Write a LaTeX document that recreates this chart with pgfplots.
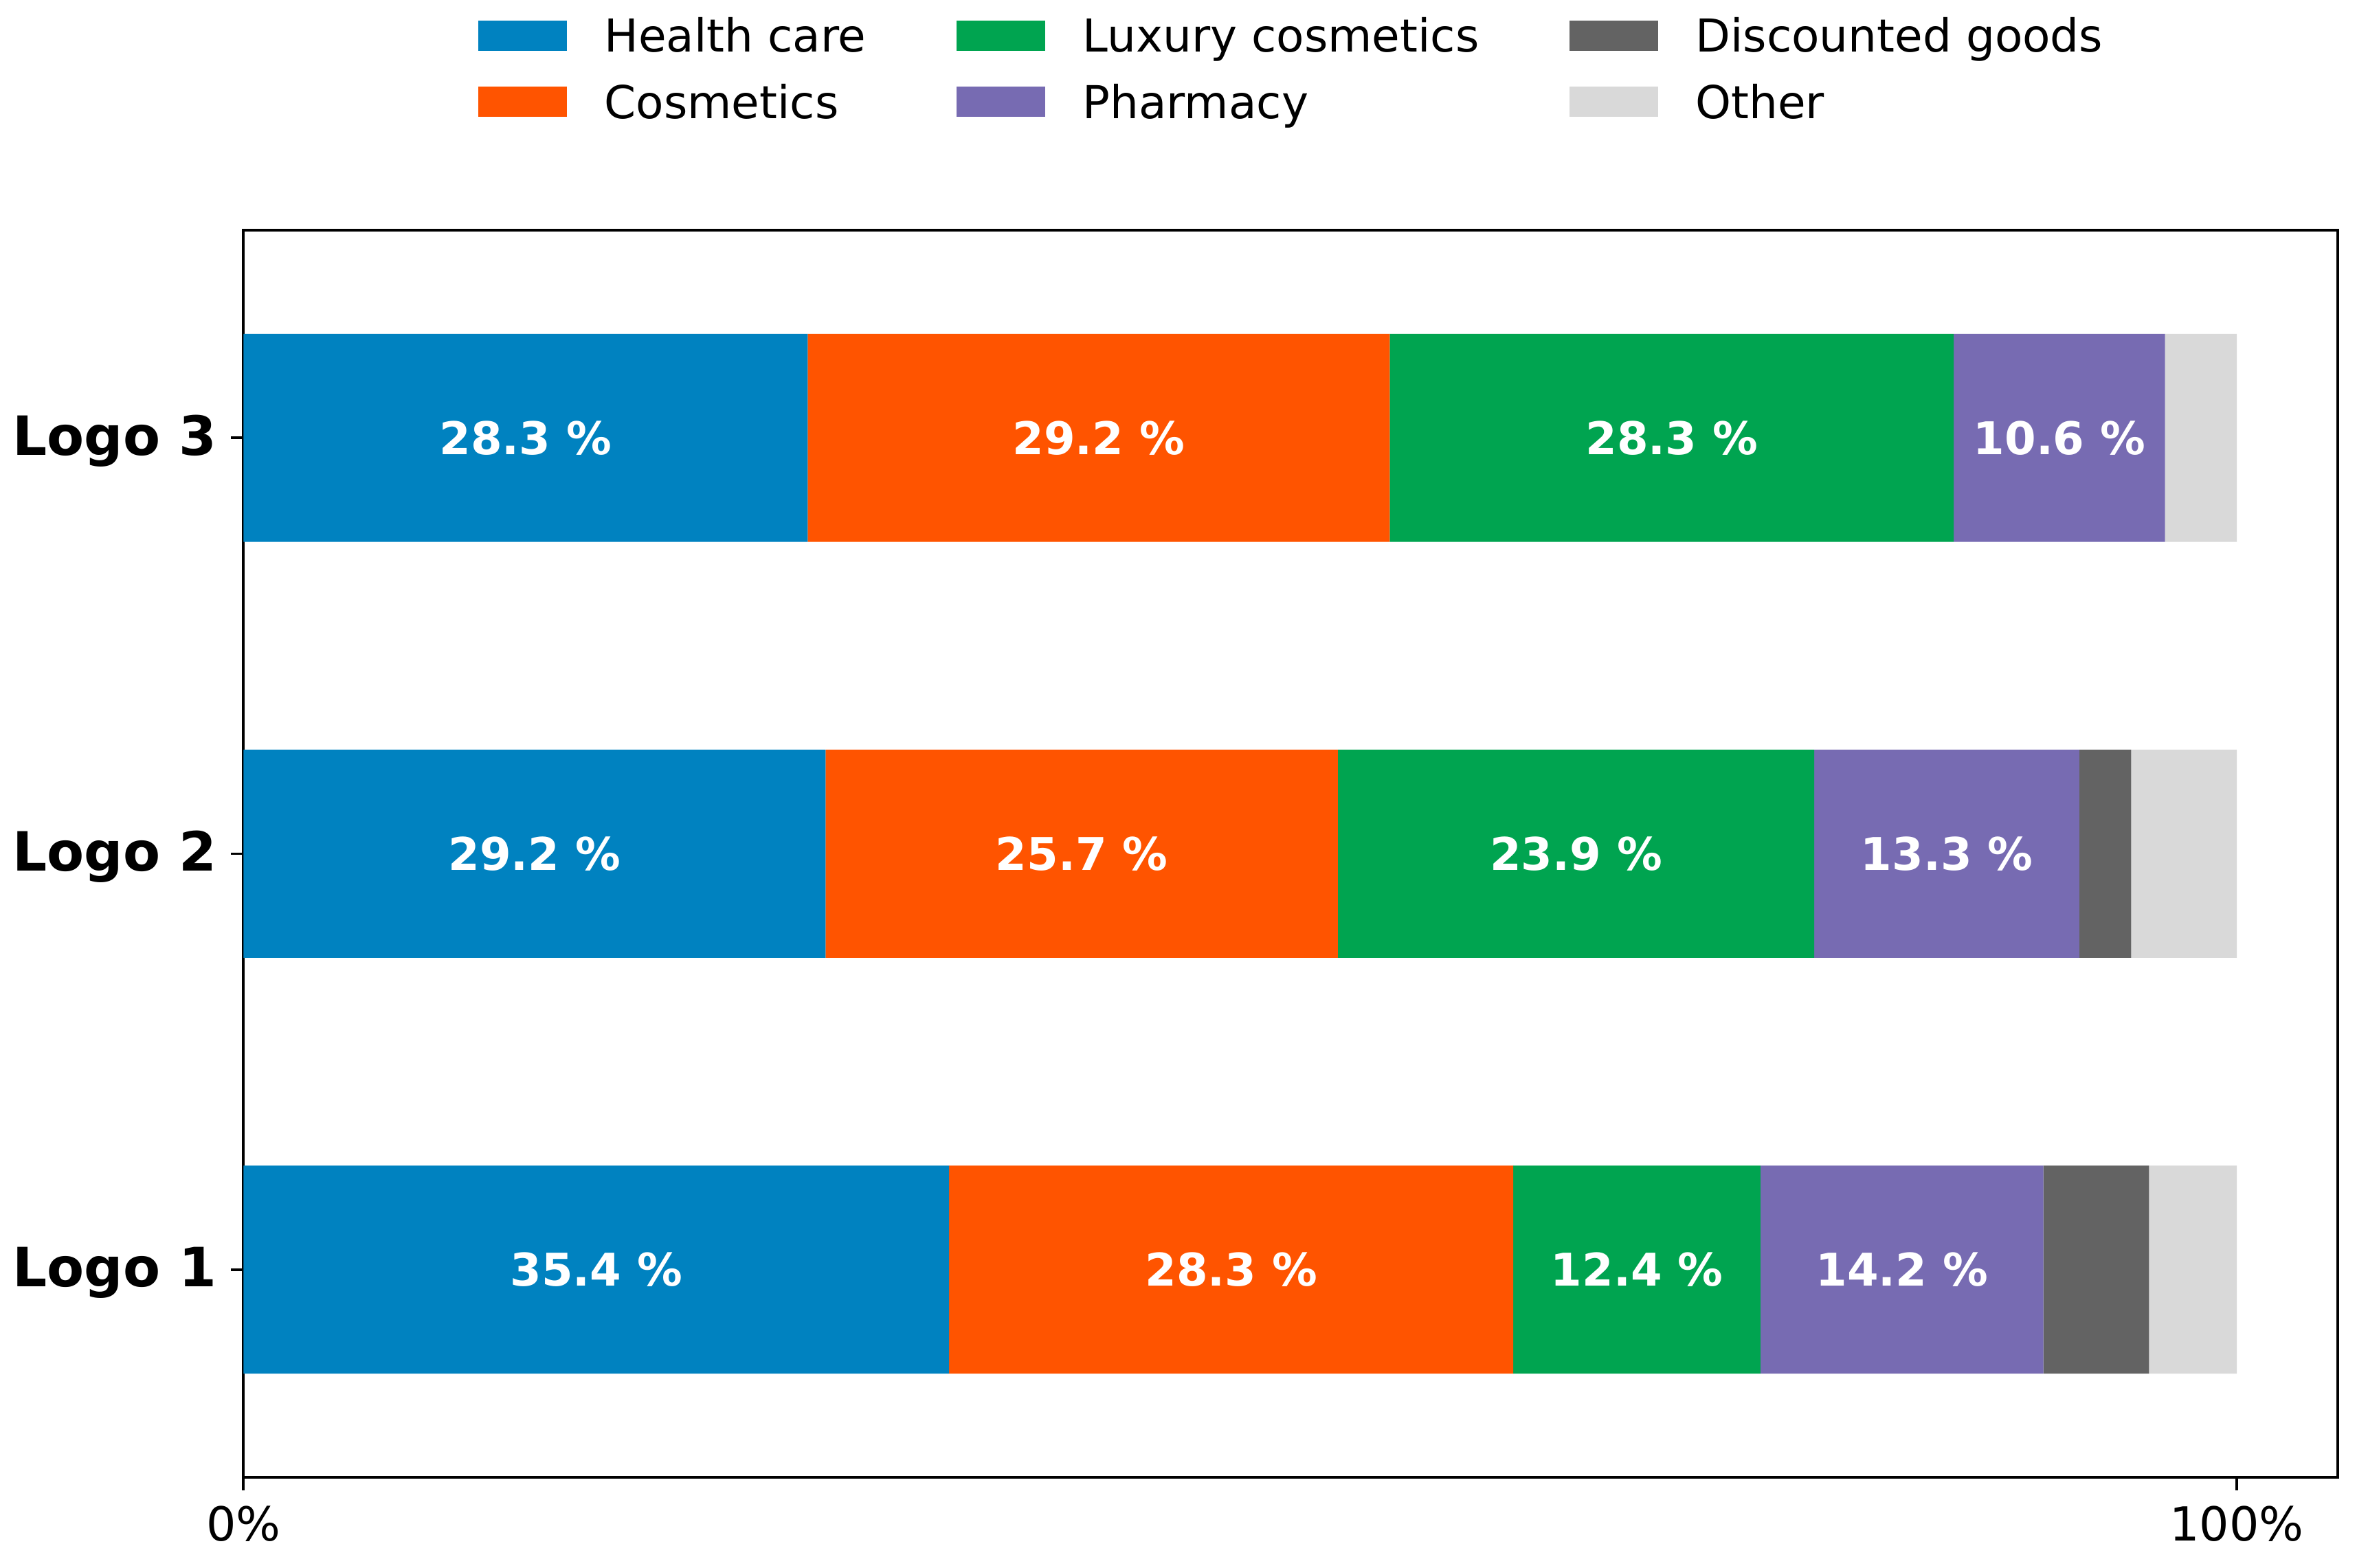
\documentclass[border=0pt]{standalone}
\usepackage{fontspec}
\setmainfont{DejaVu Sans}
\usepackage{pgfplots}
\pgfplotsset{compat=1.18}
\usepackage{pgfplotstable}

\definecolor{cHealth}{RGB}{0,130,192}
\definecolor{cCosm}{RGB}{255,84,0}
\definecolor{cLux}{RGB}{0,164,80}
\definecolor{cPharm}{RGB}{119,107,178}
\definecolor{cDisc}{RGB}{99,99,99}
\definecolor{cOther}{RGB}{217,217,217}

\pgfplotstableread{
y health cosm lux pharm disc other
1 35.4 28.3 12.4 14.2 5.3 4.4
2 29.2 25.7 23.9 13.3 2.6 5.3
3 28.3 29.2 28.3 10.6 0.0 3.6
}\shares

% label centres (cumulative midpoints) and values
\pgfplotstableread{
x y v
17.70 1 35.4
49.55 1 28.3
69.90 1 12.4
83.20 1 14.2
14.60 2 29.2
42.05 2 25.7
66.85 2 23.9
85.45 2 13.3
14.15 3 28.3
42.90 3 29.2
71.65 3 28.3
91.10 3 10.6
}\labels

\begin{document}
\begin{tikzpicture}
\useasboundingbox (-81pt,-30.1pt) rectangle (703pt,491.5pt);
\begin{axis}[
  at={(0,0)}, anchor=south west,
  scale only axis, width=696.5pt, height=415pt,
  xbar stacked, bar width=0.5,
  xmin=0, xmax=105.05, ymin=0.5, ymax=3.5,
  xtick={0,100}, xticklabels={0\%,100\%},
  ytick={1,2,3}, yticklabels={Logo 1,Logo 2,Logo 3},
  xtick pos=bottom, ytick pos=left,
  tick align=outside, major tick length=4.2pt,
  every tick/.style={black, line width=0.9pt},
  axis line style={line width=0.9pt},
  xticklabel style={font=\fontsize{15.6}{18}\selectfont, inner sep=0pt, yshift=-5pt},
  yticklabel style={font=\fontsize{18}{21}\selectfont\bfseries, inner sep=0pt, xshift=-4.5pt, yshift=-1pt},
  /pgf/number format/assume math mode=true,
]
\addplot[fill=cHealth, draw=none] table[x=health, y=y]{\shares};
\addplot[fill=cCosm, draw=none] table[x=cosm, y=y]{\shares};
\addplot[fill=cLux, draw=none] table[x=lux, y=y]{\shares};
\addplot[fill=cPharm, draw=none] table[x=pharm, y=y]{\shares};
\addplot[fill=cDisc, draw=none] table[x=disc, y=y]{\shares};
\addplot[fill=cOther, draw=none] table[x=other, y=y]{\shares};
\end{axis}
\begin{axis}[
  at={(0,0)}, anchor=south west,
  scale only axis, width=696.5pt, height=415pt,
  xmin=0, xmax=105.05, ymin=0.5, ymax=3.5,
  hide axis,
  /pgf/number format/assume math mode=true,
  legend columns=3,
  legend cell align=left,
  legend image code/.code={\fill[#1, draw=none] (0pt,-3.4pt) rectangle (29.5pt,6.6pt);},
  legend style={
    at={(0.5,1)}, anchor=center, yshift=52pt,
    draw=none, fill=none,
    font=\fontsize{15.1}{18}\selectfont,
    row sep=7.1pt,
    nodes={inner sep=0pt, text height=11.3pt, text depth=3.6pt},
    /tikz/every odd column/.append style={column sep=12.5pt},
    /tikz/every even column/.append style={column sep=30pt},
  },
]
\addlegendimage{fill=cHealth}
\addlegendentry{Health care}
\addlegendimage{fill=cLux}
\addlegendentry{Luxury cosmetics}
\addlegendimage{fill=cDisc}
\addlegendentry{Discounted goods}
\addlegendimage{fill=cCosm}
\addlegendentry{Cosmetics}
\addlegendimage{fill=cPharm}
\addlegendentry{Pharmacy}
\addlegendimage{fill=cOther}
\addlegendentry{Other}
\addplot[draw=none, mark=none, forget plot,
  nodes near coords={\pgfmathprintnumber[fixed, fixed zerofill, precision=1]{\pgfplotspointmeta} \%},
  point meta=explicit,
  every node near coord/.append style={anchor=center, text=white,
    font=\fontsize{15}{18}\selectfont\bfseries},
] table[x=x, y=y, meta=v]{\labels};
\end{axis}
\end{tikzpicture}
\end{document}
